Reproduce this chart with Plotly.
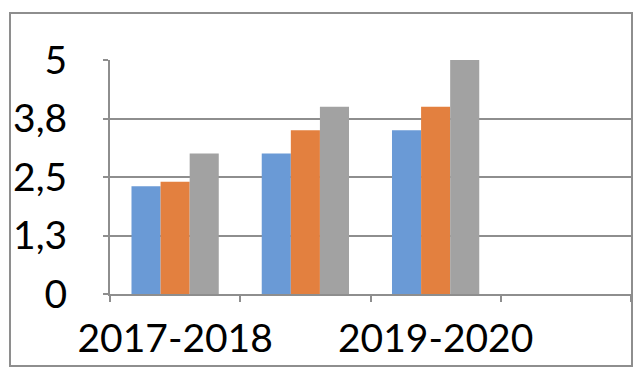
import plotly.graph_objects as go

categories = ["2017-2018", "2018-2019", "2019-2020", "2020-2021"]
x_tick_labels = ["2017-2018", "", "2019-2020", ""]
series_names = ["Серия 1", "Серия 2", "Серия 3"]
blue_values = [2.3, 3.0, 3.5, None]
orange_values = [2.4, 3.5, 4.0, None]
gray_values = [3.0, 4.0, 5.0, None]
y_tick_values = [0, 1.25, 2.5, 3.75, 5]
y_tick_labels = ["0", "1,3", "2,5", "3,8", "5"]

colors = ["#6a9ad6", "#e3803f", "#a2a2a2"]
line_gray = "#8e8e8e"

fig = go.Figure()
for name, vals, col in zip(series_names, [blue_values, orange_values, gray_values], colors):
    fig.add_trace(go.Bar(x=categories, y=vals, name=name,
                         marker=dict(color=col, line=dict(width=0))))

W, H = 640, 372
ml, mr, mt, mb = 110, 9, 60, 78
pw = W - ml - mr
ph = H - mt - mb

def px_to_paper_x(px):
    return (px - ml) / pw

def px_to_paper_y(py):
    return (H - mb - py) / ph

fig.update_layout(
    width=W, height=H,
    margin=dict(l=ml, r=mr, t=mt, b=mb, pad=0, autoexpand=False),
    paper_bgcolor="white", plot_bgcolor="white",
    barmode="group", bargap=0.33, bargroupgap=0,
    showlegend=False,
    font=dict(family="Lato, Open Sans, sans-serif", color="#000000"),
    shapes=[dict(type="rect", xref="paper", yref="paper",
                 x0=px_to_paper_x(10), x1=px_to_paper_x(632),
                 y0=px_to_paper_y(366), y1=px_to_paper_y(13),
                 line=dict(color=line_gray, width=2), fillcolor="rgba(0,0,0,0)",
                 layer="below")],
)
fig.update_xaxes(
    type="category", categoryorder="array", categoryarray=categories,
    tickmode="array", tickvals=categories, ticktext=x_tick_labels,
    tickson="boundaries", ticks="outside", ticklen=6, tickwidth=2, tickcolor=line_gray,
    showline=True, linecolor=line_gray, linewidth=2,
    showgrid=False, zeroline=False, automargin=False, tickangle=0,
    tickfont=dict(size=39, color="#000000"),
    ticklabelstandoff=9,
)
fig.update_yaxes(
    range=[0, 5], tickmode="array", tickvals=y_tick_values, ticktext=y_tick_labels,
    ticks="outside", ticklen=5, tickwidth=2, tickcolor=line_gray,
    showline=True, linecolor=line_gray, linewidth=2, automargin=False,
    showgrid=True, gridcolor=line_gray, gridwidth=2, zeroline=False,
    tickfont=dict(size=39, color="#000000"),
    ticklabelstandoff=28,
)

fig.write_html("out.html", config={"displayModeBar": False},
               post_script="document.body.style.margin='0';")
